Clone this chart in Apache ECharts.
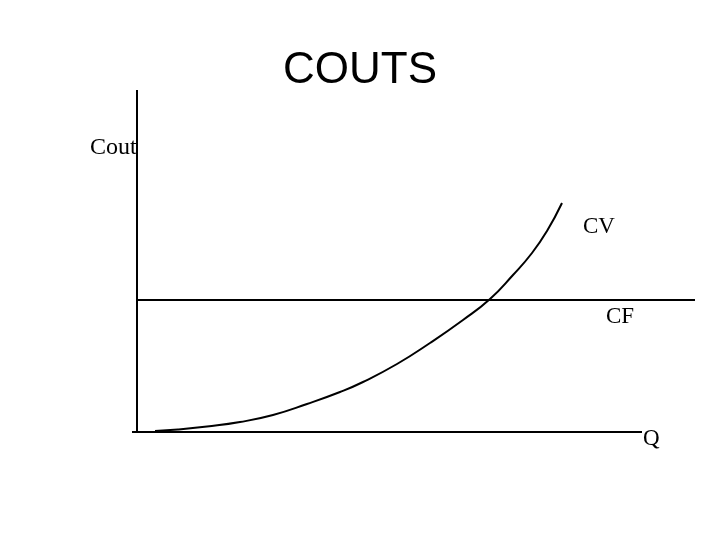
<!DOCTYPE html>
<html><head><meta charset="utf-8">
<script src="https://cdn.jsdelivr.net/npm/echarts@6/dist/echarts.min.js"></script>
<style>html,body{margin:0;padding:0;background:#fff}#c{width:720px;height:540px}</style>
</head><body><div id="c"></div>
<script>
// Data (units: horizontal Q, vertical cost)
var cvQ = [18, 41, 70, 103, 136, 170, 203, 226, 260, 293, 326, 353, 376, 395, 410, 425];
var cvCost = [1, 2.5, 5.5, 10, 17, 28, 40, 50, 68, 89, 112, 133, 157, 179, 201, 229];
var cfQ = [0, 558];
var cfCost = [132, 132];
var xAxisQ = [-5, 505];
var yAxisCost = [0, 342];
var labels = ['COUTS', 'Cout', 'CV', 'CF', 'Q'];

function pairs(xs, ys) { return xs.map(function (x, i) { return [x, ys[i]]; }); }
var lineStyle = { color: '#000', width: 2 };

var chart = echarts.init(document.getElementById('c'), null, { renderer: 'canvas' });
chart.setOption({
  backgroundColor: '#fff',
  animation: false,
  title: {
    text: labels[0], left: 'center', top: 44,
    textStyle: { fontFamily: 'Liberation Sans, Arial, sans-serif', fontSize: 44, fontWeight: 'normal', color: '#000' }
  },
  grid: { left: 132, right: 25, top: 90, bottom: 108 },
  xAxis: { type: 'value', min: -5, max: 558, show: false },
  yAxis: { type: 'value', min: 0, max: 342, show: false },
  series: [
    { type: 'line', data: pairs(xAxisQ, [0, 0]), symbol: 'none', lineStyle: lineStyle },
    { type: 'line', data: pairs([0, 0], yAxisCost), symbol: 'none', lineStyle: lineStyle },
    { type: 'line', data: pairs(cfQ, cfCost), symbol: 'none', lineStyle: lineStyle },
    { type: 'line', data: pairs(cvQ, cvCost), symbol: 'none', smooth: 0.5, lineStyle: lineStyle }
  ],
  graphic: [
    { type: 'text', left: 90, top: 136, style: { text: labels[1], font: '24px "Liberation Serif", "Times New Roman", serif', fill: '#000' } },
    { type: 'text', left: 583, top: 215, style: { text: labels[2], font: '23px "Liberation Serif", "Times New Roman", serif', fill: '#000' } },
    { type: 'text', left: 606, top: 305, style: { text: labels[3], font: '23px "Liberation Serif", "Times New Roman", serif', fill: '#000' } },
    { type: 'text', left: 643, top: 427, style: { text: labels[4], font: '23px "Liberation Serif", "Times New Roman", serif', fill: '#000' } }
  ]
});
</script></body></html>
